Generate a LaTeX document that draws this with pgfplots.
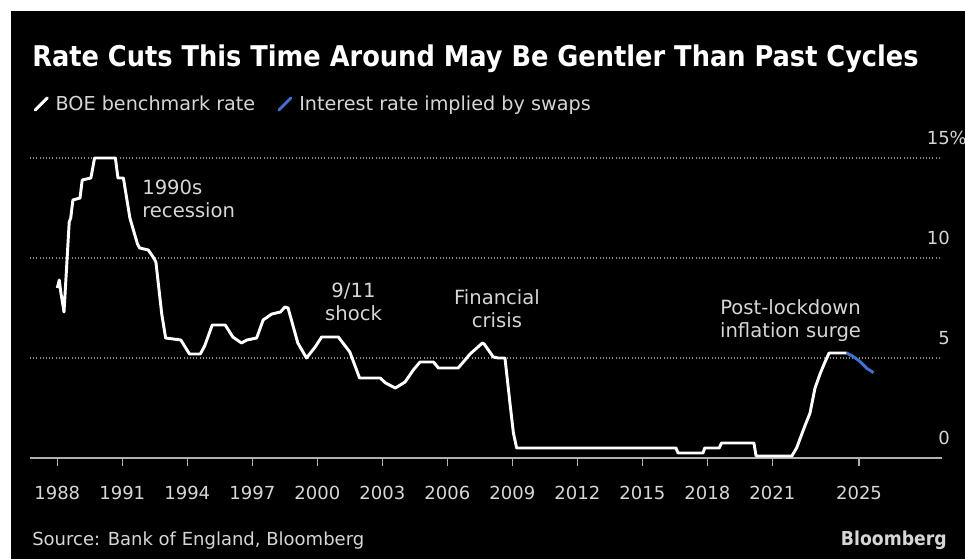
\documentclass[border=0pt]{standalone}
\usepackage{pgfplots}
\pgfplotsset{compat=1.18}
\usepackage{fontspec}
\setmainfont{DejaVu Sans}
\newfontfamily\condfont{DejaVu Sans Condensed}
\definecolor{txt}{HTML}{D6D6D6}
\definecolor{grd}{HTML}{8A8A8A}
\definecolor{axl}{HTML}{B0B0B0}
\definecolor{swapblue}{RGB}{66,112,208}

\pgfplotstableread{
x y
1988.00 8.5
1988.09 8.9
1988.16 8.3
1988.31 7.3
1988.55 11.8
1988.62 12.0
1988.72 12.9
1989.05 13.0
1989.15 13.9
1989.55 14.0
1989.72 15.0
1990.68 15.0
1990.80 14.0
1991.05 14.0
1991.35 12.0
1991.70 10.7
1991.80 10.5
1992.20 10.4
1992.45 10.0
1992.55 9.8
1992.82 7.2
1993.00 6.0
1993.70 5.9
1994.10 5.2
1994.60 5.2
1994.80 5.6
1995.15 6.65
1995.75 6.65
1996.10 6.05
1996.50 5.75
1996.75 5.9
1997.20 6.0
1997.50 6.9
1997.90 7.2
1998.30 7.3
1998.50 7.55
1998.65 7.5
1999.10 5.75
1999.50 5.0
1999.90 5.55
2000.20 6.05
2000.97 6.05
2001.50 5.3
2001.95 4.0
2002.90 4.0
2003.15 3.75
2003.60 3.5
2004.05 3.8
2004.43 4.4
2004.74 4.8
2005.36 4.8
2005.59 4.5
2006.50 4.5
2006.74 4.8
2007.05 5.2
2007.36 5.5
2007.62 5.75
2007.70 5.7
2008.12 5.05
2008.35 5.0
2008.66 5.0
2008.89 2.75
2009.05 1.25
2009.20 0.5
2016.55 0.5
2016.65 0.25
2017.80 0.25
2017.88 0.5
2018.55 0.5
2018.65 0.75
2020.15 0.75
2020.25 0.1
2021.90 0.1
2022.12 0.5
2022.50 1.6
2022.74 2.25
2022.97 3.5
2023.20 4.2
2023.43 4.8
2023.62 5.25
2024.43 5.25
}\boe

\pgfplotstableread{
x y
2024.43 5.25
2024.74 5.07
2025.05 4.82
2025.36 4.48
2025.67 4.27
}\swaps

\begin{document}
\begin{tikzpicture}
\fill[white] (0,0) rectangle (723.75pt,-419.25pt);
\fill[black] (8.25pt,-8.25pt) rectangle (723.75pt,-419.25pt);
\node[anchor=base west, text=white, font=\condfont\fontsize{21.4}{24}\selectfont\bfseries, inner sep=0pt] at (24pt,-50.25pt) {Rate Cuts This Time Around May Be Gentler Than Past Cycles};
\node[anchor=base west, text=txt, font=\fontsize{13.5}{16}\selectfont, inner sep=0pt] at (24pt,-409.5pt) {Source: Bank of England, Bloomberg};
\node[anchor=base east, text=txt, font=\condfont\fontsize{14.4}{17}\selectfont\bfseries, inner sep=0pt] at (710.25pt,-409.5pt) {Bloomberg};
\begin{axis}[
  at={(22.5pt,-343.5pt)}, anchor=south west,
  scale only axis, width=684pt, height=225pt,
  xmin=1986.74, xmax=2028.83, ymin=0, ymax=15,
  clip=false,
  axis x line*=bottom, axis y line*=right,
  x axis line style={draw=axl, line width=1pt, -},
  y axis line style={draw=none},
  xtick={1988,1991,1994,1997,2000,2003,2006,2009,2012,2015,2018,2021,2025},
  xticklabels={1988,1991,1994,1997,2000,2003,2006,2009,2012,2015,2018,2021,2025},
  ytick={0,5,10,15},
  yticklabels={0,5,10,15\rlap{\%}},
  tick align=outside,
  major tick length=6pt,
  xtick style={draw=axl, line width=1pt},
  ytick style={draw=none},
  xticklabel style={text=txt, font=\fontsize{13.5}{16}\selectfont, anchor=base, inner sep=0pt, yshift=-25.5pt},
  yticklabel style={text=txt, font=\fontsize{13.5}{16}\selectfont, anchor=base east, inner sep=0pt, xshift=0pt, yshift=10pt},
  ymajorgrids,
  grid style={draw=grd, line width=0.8pt, dash pattern=on 0.8pt off 1.6pt},
  legend style={at={(0,1.18)}, anchor=west, draw=none, fill=none, text=txt,
    font=\fontsize{14.4}{17}\selectfont, legend columns=2, inner sep=0pt,
    /tikz/every even column/.append style={column sep=12pt}},
  legend cell align=left,
  legend image code/.code={\path[draw=none,fill=none] (0pt,0pt) -- (17pt,0pt);
    \draw[#1, line width=2.2pt, line cap=round] (3.75pt,-4.5pt) -- (12.75pt,4.5pt);},
]
\addplot[white, line width=2.2pt, line join=round] table[x=x,y=y] {\boe};
\addlegendentry{BOE benchmark rate}
\addplot[swapblue, line width=2.2pt, line join=round] table[x=x,y=y] {\swaps};
\addlegendentry{Interest rate implied by swaps}
\node[align=left, anchor=west, text=txt, font=\fontsize{14.7}{17.25}\selectfont, inner sep=0pt] at (axis cs:1991.91,12.95) {1990s\\recession};
\node[align=center, text=txt, font=\fontsize{14.7}{17.25}\selectfont, inner sep=0pt] at (axis cs:2001.67,7.83) {9/11\\shock};
\node[align=center, text=txt, font=\fontsize{14.7}{17.25}\selectfont, inner sep=0pt] at (axis cs:2008.29,7.48) {Financial\\crisis};
\node[align=center, text=txt, font=\fontsize{14.7}{17.25}\selectfont, inner sep=0pt] at (axis cs:2021.84,6.88) {Post-lockdown\\inflation surge};
\end{axis}
\end{tikzpicture}
\end{document}
